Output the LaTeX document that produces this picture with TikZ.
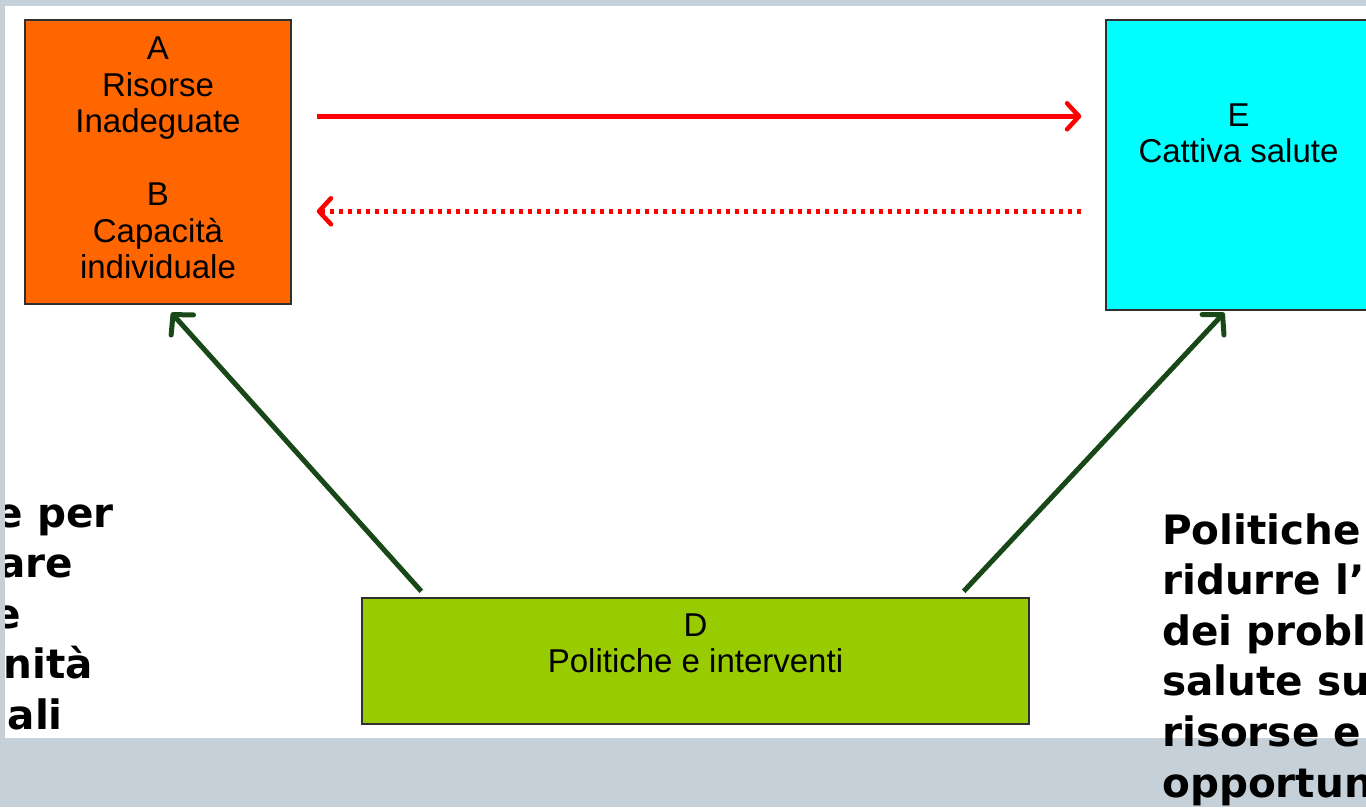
\documentclass[tikz,border=0pt]{standalone}
\usepackage{fontspec}
\setmainfont{Liberation Sans}
\newfontfamily\sidefont{DejaVu Sans}
\usetikzlibrary{arrows.meta}

\definecolor{slideframe}{HTML}{C5D0D8}
\definecolor{resorange}{HTML}{FF6600}
\definecolor{healthcyan}{HTML}{00FFFF}
\definecolor{policygreen}{HTML}{99CC00}
\definecolor{linkgreen}{RGB}{24,72,24}
\definecolor{boxline}{HTML}{303030}

\begin{document}
\begin{tikzpicture}[x=1pt,y=-1pt,
  box/.style={draw=boxline, line width=1.4pt, inner sep=0pt, align=center,
    font=\fontsize{33}{36.5}\selectfont},
  redlink/.style={draw=red, line width=4.5pt,
    -{Straight Barb[length=12pt,width=26pt,round]}},
  greenlink/.style={draw=linkgreen, line width=5pt,
    -{Straight Barb[length=14pt,width=30pt,round]}},
  sidetext/.style={font=\sidefont\bfseries\fontsize{40.5}{50}\selectfont, inner sep=0pt}]

\useasboundingbox (0,0) rectangle (1366,807);
\clip (0,0) rectangle (1366,807);

% slide frame and white drawing area
\fill[slideframe] (0,0) rectangle (1366,807);
\fill[white] (5,6) rectangle (1366,738);

% boxes
\node[box, fill=resorange, minimum width=266pt, minimum height=284pt, text depth=8pt]
  (A) at (158,162) {A\\Risorse\\Inadeguate\\[36.5pt]B\\Capacità\\individuale};
\node[box, fill=healthcyan, minimum width=265pt, minimum height=290pt, text depth=64pt]
  (E) at (1238.5,165) {E\\Cattiva salute};
\node[box, fill=policygreen, minimum width=667pt, minimum height=126pt, text depth=36pt]
  (D) at (695.5,661) {D\\Politiche e interventi};

% red links between A/B and E
\draw[redlink] ([shift={(25,97)}]A.north east) -- ([shift={(-24,97)}]E.north west);
\draw[redlink, dash pattern=on 4pt off 5pt]
  ([shift={(-24,192)}]E.north west) -- ([shift={(25,192)}]A.north east);

% green links from D
\draw[greenlink] ([shift={(60,-6)}]D.north west) -- ([shift={(147,8)}]A.south west);
\draw[greenlink] ([shift={(-66,-6)}]D.north east) -- ([shift={(119,2)}]E.south west);

% left caption, cut by the frame
\begin{scope}
  \clip (5,0) rectangle (1366,738);
  \node[sidetext, anchor=base east] (l1) at (114,527) {e per};
  \node[sidetext, anchor=base east] (l2) at (73,577.5) {are};
  \node[sidetext, anchor=base east] (l3) at (21,628) {e};
  \node[sidetext, anchor=base east] (l4) at (93,678.5) {nità};
  \node[sidetext, anchor=base east] (l5) at (63,729) {uali};
\end{scope}

% right caption, running off the slide
\node[sidetext, anchor=base west] (r1) at (1162,544) {Politiche};
\node[sidetext, anchor=base west] (r2) at (1162,594.6) {ridurre l’};
\node[sidetext, anchor=base west] (r3) at (1162,645.2) {dei probl};
\node[sidetext, anchor=base west] (r4) at (1162,695.8) {salute su};
\node[sidetext, anchor=base west] (r5) at (1162,746.4) {risorse e};
\node[sidetext, anchor=base west] (r6) at (1162,797) {opportun};
\end{tikzpicture}
\end{document}
